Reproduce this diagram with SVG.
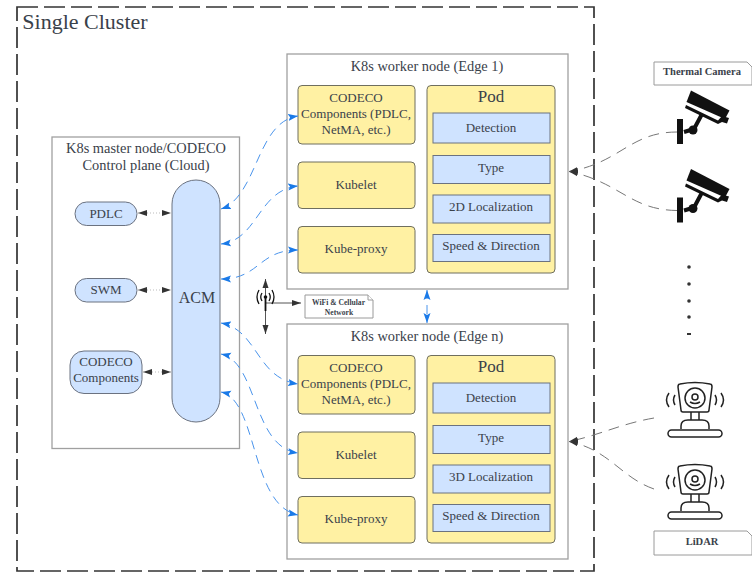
<svg xmlns="http://www.w3.org/2000/svg" xmlns:xlink="http://www.w3.org/1999/xlink" width="752" height="572" viewBox="0 0 752 572">
<style>
text{font-family:"Liberation Serif",serif;fill:#3a414a;text-anchor:middle}
.t{font-size:14.400px}
.s{font-size:13px}
.p{font-size:17px}
.n{font-size:10.500px;font-weight:bold}
.w{font-size:7.600px;font-weight:bold}
.c{fill:#fff;stroke:#a0a0a0;stroke-width:1.3}
.y{fill:#fff1a3;stroke:#6f6f5f;stroke-width:1}
.b{fill:#cfe3ff;stroke:#6b7280;stroke-width:1}
.nb{fill:#fff;stroke:#9a9a9a;stroke-width:1}
.bl{fill:none;stroke:#4a94ec;stroke-width:1;stroke-dasharray:9 6}
.gd{fill:none;stroke:#777;stroke-width:1;stroke-dasharray:11 7}
.dot{fill:none;stroke:#bbb;stroke-width:1;stroke-dasharray:1 2}
.ln{fill:none;stroke:#555;stroke-width:1}
.ic{fill:none;stroke:#222;stroke-width:1.500}
</style>
<defs>
<marker id="ab" markerWidth="11" markerHeight="8" refX="10" refY="4" orient="auto-start-reverse" markerUnits="userSpaceOnUse"><path d="M0 0.500L10 4L0 7.500L2 4Z" fill="#1a7ae8"/></marker>
<marker id="ag" markerWidth="10" markerHeight="8" refX="9" refY="4" orient="auto-start-reverse" markerUnits="userSpaceOnUse"><path d="M0 1L9 4L0 7Z" fill="#333"/></marker>
<g id="cam"><path d="M691 90.500L729.500 110.500L725 119L686.500 102Z" fill="#111"/><path d="M686 105L718 120.500L722 116L729 118L727 123.500L722 122L718 124L685 108Z" fill="#111"/><path d="M702 114L694 129L684 132" fill="none" stroke="#111" stroke-width="4"/><circle cx="693" cy="130" r="4.500" fill="#111"/><rect x="677" y="119" width="6" height="25" fill="#111"/></g>
<g id="lid"><path d="M680 384Q695 381 710 384Q712 384 712 387L709 410Q709 412 707 412H683Q681 412 681 410L678 387Q678 384 680 384Z" class="ic"/><circle cx="695" cy="398" r="10" class="ic"/><circle cx="695" cy="397" r="3" class="ic"/><path d="M690 402Q695 405 700 402" class="ic"/><path d="M691 412V420M699 412V420" class="ic"/><path d="M681 429V426Q681 420 688 420H702Q709 420 709 426V429" class="ic"/><rect x="668" y="430" width="54" height="7" rx="3.500" class="ic"/><path d="M675 395Q672 400 675 405M669 393Q664 400 669 407M715 395Q718 400 715 405M721 393Q726 400 721 407" class="ic"/></g>
</defs>
<rect width="752" height="572" fill="#fff"/>
<g id="cluster"><rect x="17" y="7" width="577" height="564" fill="none" stroke="#333" stroke-width="1.700" stroke-dasharray="21 6"/><text x="85" y="29" style="font-size:22px">Single Cluster</text></g>
<g id="master"><rect x="52" y="137" width="187.500" height="311.500" class="c"/><text class="t" x="146" y="153">K8s master node/CODECO</text><text class="t" x="146" y="170">Control plane (Cloud)</text></g>
<g id="acm"><rect x="172" y="180" width="48" height="242" rx="24" class="b"/><text x="197" y="303" style="font-size:16px">ACM</text></g>
<g id="pdlc"><rect x="75" y="202" width="62" height="23.500" rx="11.700" class="b"/><text class="s" x="106" y="218">PDLC</text></g>
<g id="swm"><rect x="75" y="278.500" width="62" height="23.500" rx="11.700" class="b"/><text class="s" x="106" y="294">SWM</text></g>
<g id="codeco-m"><rect x="70" y="351" width="72" height="42.500" rx="14" class="b"/><text class="s" x="106" y="366">CODECO</text><text class="s" x="106" y="382">Components</text></g>
<g id="worker-1"><rect x="287" y="54" width="281" height="235" class="c"/><text class="t" x="427" y="71">K8s worker node (Edge 1)</text></g>
<g id="w1-codeco"><rect x="298" y="85.500" width="117" height="58.500" rx="4" class="y"/><text class="s" x="356" y="102">CODECO</text><text class="s" x="356" y="118">Components (PDLC,</text><text class="s" x="356" y="134">NetMA, etc.)</text></g>
<g id="w1-kubelet"><rect x="298" y="162" width="117" height="46.500" rx="4" class="y"/><text class="s" x="356" y="189">Kubelet</text></g>
<g id="w1-proxy"><rect x="298" y="226.500" width="117" height="46.500" rx="4" class="y"/><text class="s" x="356" y="253">Kube-proxy</text></g>
<g id="w1-pod"><rect x="427" y="85.500" width="128" height="187.500" rx="4" class="y"/><text class="p" x="491" y="102">Pod</text>
<rect x="433" y="113" width="117" height="30" class="b"/><text class="s" x="491" y="132">Detection</text>
<rect x="433" y="155.500" width="117" height="28" class="b"/><text class="s" x="491" y="172">Type</text>
<rect x="433" y="195" width="117" height="28" class="b"/><text class="s" x="491" y="211">2D Localization</text>
<rect x="433" y="234.500" width="117" height="27" class="b"/><text class="s" x="491" y="250">Speed &amp; Direction</text></g>
<g id="worker-n"><rect x="287" y="324" width="281" height="235" class="c"/><text class="t" x="427" y="341">K8s worker node (Edge n)</text></g>
<g id="wn-codeco"><rect x="298" y="355.500" width="117" height="58.500" rx="4" class="y"/><text class="s" x="356" y="372">CODECO</text><text class="s" x="356" y="388">Components (PDLC,</text><text class="s" x="356" y="404">NetMA, etc.)</text></g>
<g id="wn-kubelet"><rect x="298" y="432" width="117" height="46.500" rx="4" class="y"/><text class="s" x="356" y="459">Kubelet</text></g>
<g id="wn-proxy"><rect x="298" y="496.500" width="117" height="46.500" rx="4" class="y"/><text class="s" x="356" y="523">Kube-proxy</text></g>
<g id="wn-pod"><rect x="427" y="355.500" width="128" height="187.500" rx="4" class="y"/><text class="p" x="491" y="372">Pod</text>
<rect x="433" y="383" width="117" height="30" class="b"/><text class="s" x="491" y="402">Detection</text>
<rect x="433" y="425.500" width="117" height="28" class="b"/><text class="s" x="491" y="442">Type</text>
<rect x="433" y="465" width="117" height="28" class="b"/><text class="s" x="491" y="481">3D Localization</text>
<rect x="433" y="504.500" width="117" height="27" class="b"/><text class="s" x="491" y="520">Speed &amp; Direction</text></g>
<g id="connectors">
<path class="dot" d="M138 213H171" marker-start="url(#ag)" marker-end="url(#ag)"/>
<path class="dot" d="M138 290H171" marker-start="url(#ag)" marker-end="url(#ag)"/>
<path class="dot" d="M143 372H171" marker-start="url(#ag)" marker-end="url(#ag)"/>
<path class="bl" d="M221 209C258 196 256 122 298 116" marker-start="url(#ab)" marker-end="url(#ab)"/>
<path class="bl" d="M221 244C258 240 258 190 298 186" marker-start="url(#ab)" marker-end="url(#ab)"/>
<path class="bl" d="M221 279C260 279 258 250 298 250" marker-start="url(#ab)" marker-end="url(#ab)"/>
<path class="bl" d="M221 323C258 330 256 378 298 384" marker-start="url(#ab)" marker-end="url(#ab)"/>
<path class="bl" d="M221 354C258 362 252 447 298 453" marker-start="url(#ab)" marker-end="url(#ab)"/>
<path class="bl" d="M221 392C258 400 250 505 298 515" marker-start="url(#ab)" marker-end="url(#ab)"/>
<path class="bl" d="M427 290V323" marker-start="url(#ab)" marker-end="url(#ab)"/>
<path class="ln" d="M265.500 279V334" marker-start="url(#ag)" marker-end="url(#ag)"/>
<path class="ln" d="M266 303H301" marker-end="url(#ag)"/>
<path class="gd" d="M677 132C630 132 620 163 569 171.500" marker-end="url(#ag)"/>
<path class="gd" d="M677 210.500C630 210 620 182 569 171.500" marker-end="url(#ag)"/>
<path class="gd" d="M654 418C620 424 600 435 569 441.500" marker-end="url(#ag)"/>
<path class="gd" d="M654 489C620 477 610 450 569 441.500" marker-end="url(#ag)"/>
</g>
<g id="antenna"><path d="M265.500 297V311" stroke="#111" stroke-width="1.800" fill="none"/><circle cx="265.500" cy="297" r="1.800" fill="#111"/><path d="M262 293Q259.500 297 262 301M269 293Q271.500 297 269 301M259 290Q255 297 259 304M272 290Q276 297 272 304" fill="none" stroke="#111" stroke-width="1.300"/></g>
<g id="wifi-note"><path d="M305 295H368L373 300V318H305Z" class="nb"/><path d="M368 295V300H373" class="nb"/><text class="w" x="338.500" y="305">WiFi &amp; Cellular</text><text class="w" x="339" y="315">Network</text></g>
<g id="thermal-note"><path d="M654 62H747L752 67V85H654Z" class="nb"/><text class="n" x="702" y="75">Thermal Camera</text></g>
<g id="lidar-note"><path d="M654 531H747L752 536V555H654Z" class="nb"/><text class="n" x="702" y="545">LiDAR</text></g>
<g id="camera-1"><use xlink:href="#cam" href="#cam"/></g>
<g id="camera-2"><use xlink:href="#cam" href="#cam" y="78.500"/></g>
<g id="lidar-1"><use href="#lid" xlink:href="#lid"/></g>
<g id="lidar-2"><use href="#lid" xlink:href="#lid" y="82"/></g>
<g id="dots" fill="#333"><circle cx="689" cy="267" r="1.800"/><circle cx="689" cy="284" r="1.800"/><circle cx="689" cy="301" r="1.800"/><circle cx="689" cy="317" r="1.800"/><rect x="687" y="333" width="4" height="2"/></g>
</svg>
